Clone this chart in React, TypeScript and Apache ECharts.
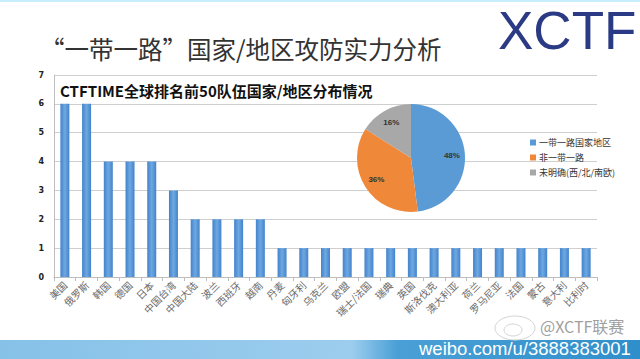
import React, { useEffect, useRef } from "react";
import * as echarts from "echarts";

const categories = ["美国", "俄罗斯", "韩国", "德国", "日本", "中国台湾", "中国大陆", "波兰", "西班牙", "越南", "丹麦", "匈牙利", "乌克兰", "欧盟", "瑞士/法国", "瑞典", "英国", "斯洛伐克", "澳大利亚", "荷兰", "罗马尼亚", "法国", "蒙古", "意大利", "比利时"];
const teamCounts = [6, 6, 4, 4, 4, 3, 2, 2, 2, 2, 1, 1, 1, 1, 1, 1, 1, 1, 1, 1, 1, 1, 1, 1, 1];
const pieNames = ["一带一路国家地区", "非一带一路", "未明确(西/北/南欧)"];
const pieValues = [48, 36, 16];
const pieColors = ["#5b9bd5", "#f0883a", "#a8a8a8"];
const yTicks = [0, 1, 2, 3, 4, 5, 6, 7];

export default function App() {
  const ref = useRef<HTMLDivElement>(null);
  useEffect(() => {
    document.body.style.margin = "0";
    const chart = echarts.init(ref.current!, null, { renderer: "svg" });
    const cjk = "'Noto Sans CJK SC', 'Noto Sans', sans-serif";
    chart.setOption({
      animation: false,
      backgroundColor: "#ffffff",
      title: {
        text: "CTFTIME全球排名前50队伍国家/地区分布情况",
        left: 55,
        top: 78,
        textStyle: { fontSize: 15, fontWeight: "bold", color: "#111", fontFamily: cjk },
      },
      legend: {
        orient: "vertical",
        left: 525,
        top: 133,
        itemWidth: 6,
        itemHeight: 6,
        itemGap: 6,
        icon: "rect",
        data: pieNames,
        textStyle: { fontSize: 9, color: "#333", fontFamily: cjk, padding: [0, 0, 0, -2] },
      },
      grid: { left: 54, right: 43, top: 75, bottom: 82 },
      xAxis: {
        type: "category",
        data: categories,
        axisLine: { lineStyle: { color: "#bdbdbd" } },
        axisTick: { show: true, length: 4, lineStyle: { color: "#bdbdbd" } },
        axisLabel: { rotate: 45, interval: 0, fontSize: 10, color: "#6a6a6a", margin: 6, fontFamily: cjk },
      },
      yAxis: {
        type: "value",
        min: yTicks[0],
        max: yTicks[yTicks.length - 1],
        interval: 1,
        axisLine: { show: true, lineStyle: { color: "#bdbdbd" } },
        axisTick: { show: false },
        splitLine: { lineStyle: { color: "#cfcfcf" } },
        axisLabel: { fontSize: 8, fontWeight: "bold", color: "#222", margin: 10, fontFamily: "'DejaVu Sans', sans-serif" },
      },
      series: [
        {
          type: "bar",
          data: teamCounts,
          barWidth: 9,
          itemStyle: {
            color: new echarts.graphic.LinearGradient(0, 0, 1, 0, [
              { offset: 0, color: "#4283cb" },
              { offset: 0.5, color: "#6ea8e2" },
              { offset: 1, color: "#4283cb" },
            ]),
          },
        },
        {
          type: "pie",
          center: [411, 158],
          radius: 54,
          startAngle: 90,
          clockwise: true,
          label: { show: false },
          labelLine: { show: false },
          data: pieNames.map((n, i) => ({ name: n, value: pieValues[i], itemStyle: { color: pieColors[i] } })),
        },
        {
          type: "pie",
          center: [411, 158],
          radius: [22, 54],
          startAngle: 90,
          clockwise: true,
          silent: true,
          legendHoverLink: false,
          label: {
            show: true,
            position: "inside",
            formatter: (p: any) => p.value + "%",
            fontSize: 8,
            fontWeight: "bold",
            color: "#333",
          },
          labelLine: { show: false },
          itemStyle: { color: "rgba(0,0,0,0)" },
          data: pieNames.map((n, i) => ({ name: n + " ", value: pieValues[i] })),
        },
      ],
      graphic: [
        { type: "rect", shape: { x: 0, y: 0, width: 640, height: 2 }, style: { fill: "#c6eefc" } },
        {
          type: "text",
          left: 40,
          top: 36,
          style: { text: "“一带一路”国家/地区攻防实力分析", fontSize: 24.5, fill: "#333", fontFamily: cjk },
        },
        {
          type: "text",
          left: 498,
          top: 4,
          style: { text: "XCTF", fontSize: 53, fill: "#2b3a84", fontFamily: "'Liberation Sans', Arial, sans-serif" },
        },
        {
          type: "rect",
          shape: { x: 0, y: 340, width: 640, height: 19 },
          style: {
            fill: new echarts.graphic.LinearGradient(0, 0, 1, 0, [
              { offset: 0, color: "#86c1e8" },
              { offset: 0.55, color: "#9ccdee" },
              { offset: 0.62, color: "#4aa0d6" },
              { offset: 1, color: "#2f8fcb" },
            ]),
          },
        },
        {
          type: "text",
          left: 419,
          top: 339,
          style: { text: "weibo.com/u/3888383001", fontSize: 18.5, fill: "#ffffff", fontFamily: "'Liberation Sans', Arial, sans-serif" },
        },
        { type: "ellipse", shape: { cx: 515, cy: 328, rx: 20, ry: 12 }, style: { fill: "none", stroke: "#d4d4d4", lineWidth: 1 } },
        { type: "ellipse", shape: { cx: 513, cy: 330, rx: 9, ry: 6 }, style: { fill: "none", stroke: "#d4d4d4", lineWidth: 1 } },
        {
          type: "text",
          left: 540,
          top: 318,
          style: { text: "@XCTF联赛", fontSize: 16, fill: "#a0a0a0", fontFamily: cjk },
        },
      ],
    });
    return () => chart.dispose();
  }, []);
  return <div ref={ref} style={{ position: "absolute", left: 0, top: 0, width: 640, height: 359 }} />;
}
